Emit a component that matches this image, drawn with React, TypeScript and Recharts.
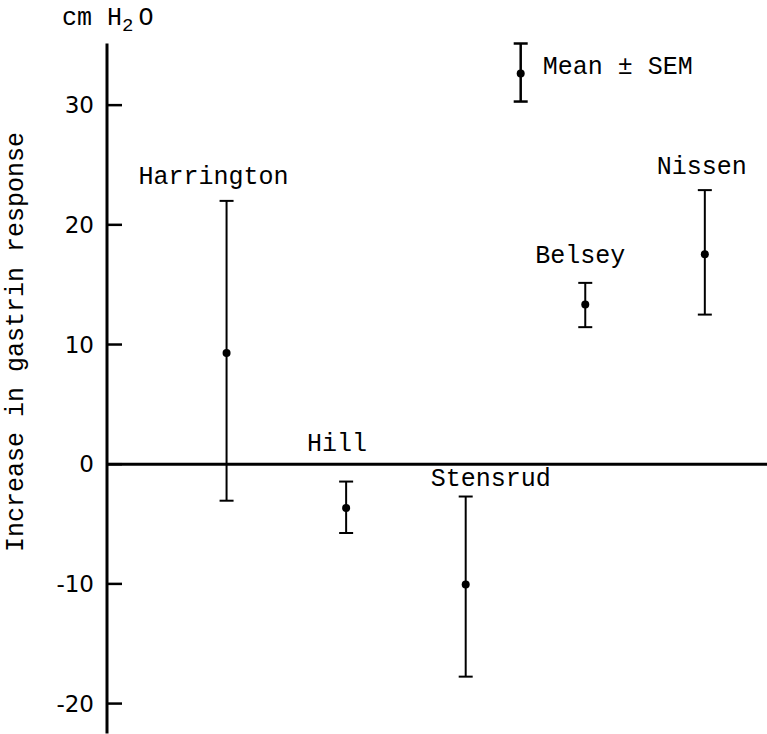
import React from 'react';
import {
  ScatterChart,
  Scatter,
  XAxis,
  YAxis,
  ErrorBar,
  ReferenceLine,
  ReferenceDot,
} from 'recharts';

// Increase in gastrin response (cm H2O), mean with upper/lower SEM bounds
const procedures = ['Harrington', 'Hill', 'Stensrud', 'Belsey', 'Nissen'];
const meanRise = [9.3, -3.65, -10.05, 13.35, 17.55];
const semUpper = [22.0, -1.45, -2.7, 15.15, 22.9];
const semLower = [-3.05, -5.75, -17.75, 11.45, 12.5];
const yTicks = [-20, -10, 0, 10, 20, 30];

// Key sample shown in the upper right
const keyText = 'Mean ± SEM';
const keyMean = 32.65;
const keyUpper = 35.15;
const keyLower = 30.3;

const typeFont = '"Liberation Mono", "Courier New", monospace';
const tickFont = '"DejaVu Sans", sans-serif';

const points = procedures.map((name, i) => ({
  name,
  pos: i + 1,
  mean: meanRise[i],
  sem: [meanRise[i] - semLower[i], semUpper[i] - meanRise[i]],
}));

const KEY_POS = 3.46;
const keyPoint = [
  { pos: KEY_POS, mean: keyMean, sem: [keyMean - keyLower, keyUpper - keyMean] },
];

// label placement relative to the top cap of each bar: [dx, rise]
const labelNudge: Record<string, [number, number]> = {
  Harrington: [-13, 17],
  Hill: [-9, 31],
  Stensrud: [25, 11],
  Belsey: [-5, 20],
  Nissen: [-3, 16],
};

const Dot = (props: any) => {
  const { cx, cy } = props;
  if (cx == null || cy == null) return null;
  return <circle cx={cx} cy={cy} r={4} fill="#000" />;
};

const YTick = (props: any) => {
  const { x, y, payload } = props;
  return (
    <g>
      <line x1={x} y1={y} x2={x + 15} y2={y} stroke="#000" strokeWidth={2.5} />
      <text
        x={x - 13}
        y={y}
        dy="0.36em"
        textAnchor="end"
        fontFamily={tickFont}
        fontSize={23}
        fill="#000"
      >
        {payload.value}
      </text>
    </g>
  );
};

const AxisTitles = () => (
  <g>
    <text
      x={16}
      y={342}
      transform="rotate(-90 16 342)"
      textAnchor="middle"
      dominantBaseline="central"
      fontFamily={typeFont}
      fontSize={25}
      fill="#000"
    >
      Increase in gastrin response
    </text>
    <text x={62} y={25} fontFamily={typeFont} fontSize={25} fill="#000">
      cm H
      <tspan dy={6} fontSize={19}>
        2
      </tspan>
      <tspan dy={-6} dx={5}>
        O
      </tspan>
    </text>
  </g>
);

const nameLabel = (name: string) => (p: any) => {
  const vb = p.viewBox || {};
  const cx = (vb.x ?? 0) + (vb.width ?? 0) / 2;
  const cy = (vb.y ?? 0) + (vb.height ?? 0) / 2;
  const [dx, rise] = labelNudge[name];
  return (
    <text
      x={cx + dx}
      y={cy - rise}
      textAnchor="middle"
      fontFamily={typeFont}
      fontSize={25}
      fill="#000"
    >
      {name}
    </text>
  );
};

const keyLabel = (p: any) => {
  const vb = p.viewBox || {};
  const cx = (vb.x ?? 0) + (vb.width ?? 0) / 2;
  const cy = (vb.y ?? 0) + (vb.height ?? 0) / 2;
  return (
    <text x={cx + 22} y={cy + 1} fontFamily={typeFont} fontSize={25} fill="#000">
      {keyText}
    </text>
  );
};

export default function App() {
  return (
    <div style={{ position: 'absolute', left: 0, top: 0, background: '#fff' }}>
      <ScatterChart
        width={767}
        height={734}
        margin={{ top: 43.5, right: 0, bottom: 0.5, left: 47 }}
      >
        <XAxis type="number" dataKey="pos" domain={[0, 5.52]} hide />
        <YAxis
          type="number"
          dataKey="mean"
          domain={[-22.5, 35]}
          ticks={yTicks}
          width={60}
          tickSize={0}
          tickMargin={0}
          tickLine={false}
          tick={<YTick />}
          axisLine={{ stroke: '#000', strokeWidth: 3 }}
          label={{ content: () => <AxisTitles /> }}
        />
        <ReferenceLine y={0} stroke="#000" strokeWidth={3} />
        <Scatter data={points} shape={<Dot />} isAnimationActive={false}>
          <ErrorBar
            dataKey="sem"
            direction="y"
            width={7}
            stroke="#000"
            strokeWidth={2}
            isAnimationActive={false}
          />
        </Scatter>
        <Scatter data={keyPoint} shape={<Dot />} isAnimationActive={false}>
          <ErrorBar
            dataKey="sem"
            direction="y"
            width={7}
            stroke="#000"
            strokeWidth={2.5}
            isAnimationActive={false}
          />
        </Scatter>
        {points.map((d, i) => (
          <ReferenceDot
            key={d.name}
            x={d.pos}
            y={semUpper[i]}
            r={0}
            fill="none"
            stroke="none"
            label={{ content: nameLabel(d.name) }}
          />
        ))}
        <ReferenceDot
          x={KEY_POS}
          y={keyMean}
          r={0}
          fill="none"
          stroke="none"
          label={{ content: keyLabel }}
        />
      </ScatterChart>
    </div>
  );
}
